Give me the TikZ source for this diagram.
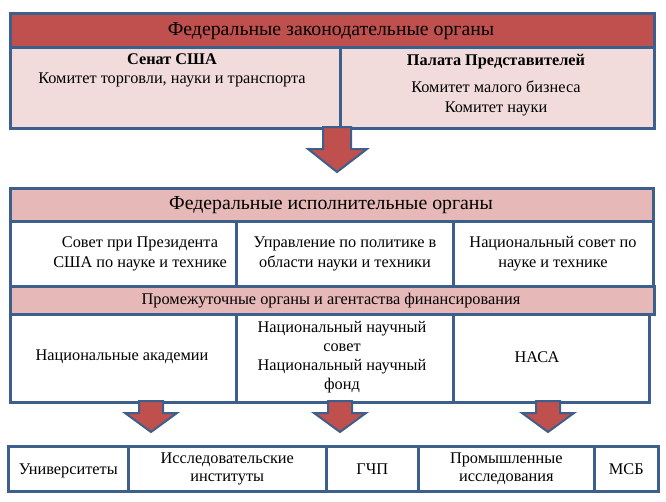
\documentclass[tikz,border=0pt]{standalone}
\usepackage{fontspec}
\setmainfont{Liberation Serif}
\definecolor{bordc}{HTML}{3D5F8C}
\definecolor{darkred}{HTML}{C0504D}
\definecolor{lightpink}{HTML}{F2DCDB}
\definecolor{midpink}{HTML}{E6B9B8}
\tikzset{
  box/.style={draw=bordc, line width=2.6pt, anchor=north west, inner sep=0pt, align=center, font=\fontsize{16.3}{18.5}\selectfont},
  txt/.style={inner sep=0pt, align=center, font=\fontsize{16.3}{20}\selectfont},
  titletxt/.style={inner sep=0pt, align=center, font=\fontsize{19.8}{22}\selectfont},
  blockarrow/.style={fill=darkred, draw=bordc, line width=2pt, line join=miter},
}
\begin{document}
\begin{tikzpicture}[x=1pt,y=-1pt]
\useasboundingbox (0,0) rectangle (666,501);
% legislative
\node[box, fill=darkred, minimum width=644, minimum height=34] (leg) at (9,12) {};
\node[titletxt] (legt) at (331,31.5) {Федеральные законодательные органы};
\node[box, fill=lightpink, minimum width=330, minimum height=81] (sen) at (9,46) {};
\node[box, fill=lightpink, minimum width=314, minimum height=81] (house) at (339,46) {};
\node[txt, font=\bfseries\fontsize{16.3}{20}\selectfont] (sent) at (172,59.5) {Сенат США};
\node[txt] (sent2) at (172,80) {Комитет торговли, науки и транспорта};
\node[txt, font=\bfseries\fontsize{16.3}{20}\selectfont] (houset) at (496,61.5) {Палата Представителей};
\node[txt] (houset2) at (496,98) {Комитет малого бизнеса\\Комитет науки};
% arrow 1
\filldraw[blockarrow] (323,127) -- (351,127) -- (351,149) -- (367,149) -- (337,172) -- (308,149) -- (323,149) -- cycle;
% executive
\node[box, fill=midpink, minimum width=643, minimum height=33] (exe) at (9,187) {};
\node[titletxt] (exet) at (331,205) {Федеральные исполнительные органы};
\node[box, fill=white, minimum width=226, minimum height=65] (ost) at (9,220) {};
\node[box, fill=white, minimum width=217, minimum height=65] (opt) at (235,220) {};
\node[box, fill=white, minimum width=200, minimum height=65] (nsnt) at (452,220) {};
\node[txt] (ostt) at (140,254) {Совет при Президента\\США по науке и технике};
\node[txt] (optt) at (345,254) {Управление по политике в\\области науки и техники};
\node[txt] (nsntt) at (553,254) {Национальный совет по\\науке и технике};
% intermediate
\node[box, fill=midpink, minimum width=644, minimum height=28] (mid) at (9,285) {};
\node[txt] (midt) at (331,300.5) {Промежуточные органы и агентаства финансирования};
\node[box, fill=white, minimum width=226, minimum height=88] (nas) at (9,313) {};
\node[box, fill=white, minimum width=217, minimum height=88] (nsf) at (235,313) {};
\node[box, fill=white, minimum width=196, minimum height=88] (nasa) at (452,313) {};
\node[txt] (nast) at (122,357) {Национальные академии};
\node[txt, font=\fontsize{16.3}{19}\selectfont] (nsft) at (342,357.5) {Национальный научный\\совет\\Национальный научный\\фонд};
\node[txt] (nasat) at (537,357) {НАСА};
% arrows
\foreach \cx in {151,340,548}{
  \filldraw[blockarrow] (\cx-12,401) -- (\cx+12,401) -- (\cx+12,413) -- (\cx+26,413) -- (\cx,432) -- (\cx-26,413) -- (\cx-12,413) -- cycle;
}
% bottom
\node[box, minimum width=120, minimum height=45, text depth=0pt] (uni) at (7,445) {Университеты};
\node[box, minimum width=198, minimum height=45] (inst) at (127,445) {Исследовательские\\институты};
\node[box, minimum width=92, minimum height=45, text depth=0pt] (gchp) at (325,445) {ГЧП};
\node[box, minimum width=176, minimum height=45] (ind) at (417,445) {Промышленные\\исследования};
\node[box, minimum width=64, minimum height=45, text depth=0pt] (msb) at (593,445) {МСБ};
\end{tikzpicture}
\end{document}
